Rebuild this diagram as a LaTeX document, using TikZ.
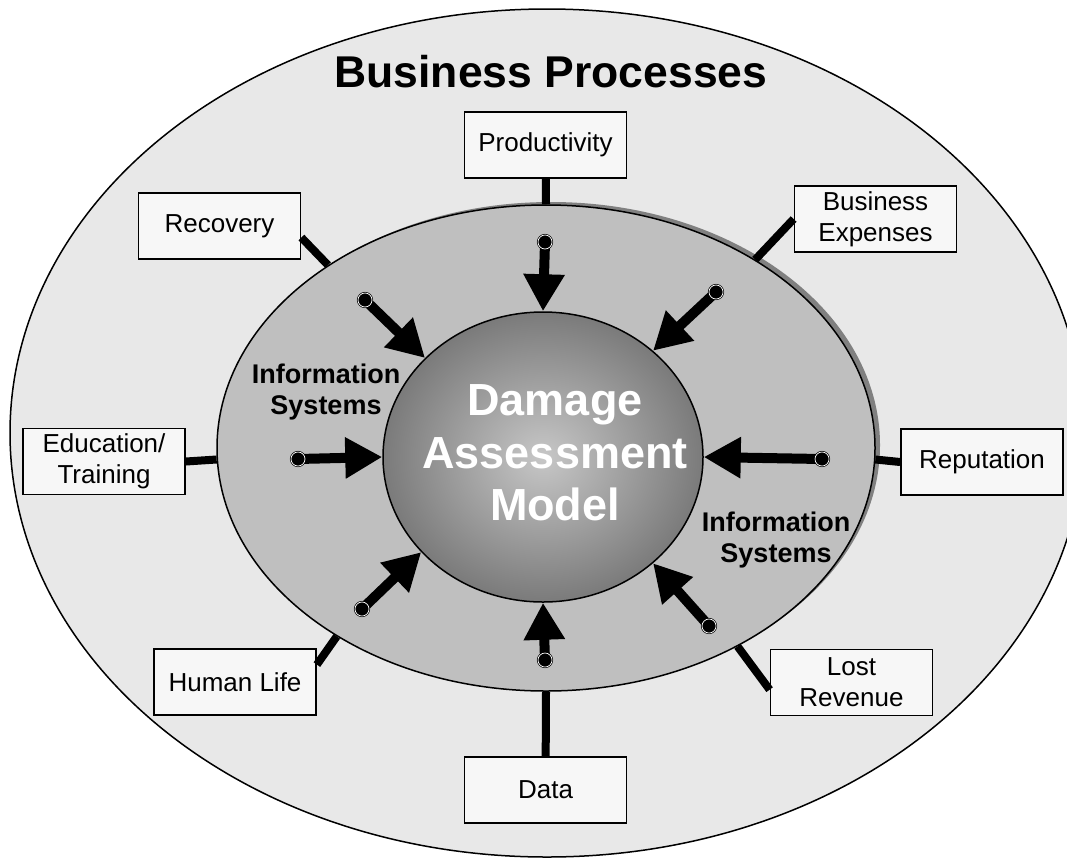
\documentclass[tikz,border=0pt]{standalone}
\usepackage{fontspec}
\setmainfont{Liberation Sans}
\usetikzlibrary{shapes.geometric,arrows.meta,shadows}

\tikzset{
  factor/.style={draw, line width=1.8pt, fill=black!3, minimum width=162pt, minimum height=66pt,
                 inner sep=0pt, align=center, font=\fontsize{26}{31}\selectfont},
  link/.style={line width=8pt},
  feed/.style={line width=10pt, -{Triangle[length=37pt,width=39pt]}},
  pinhead/.style={circle, fill=black, draw=black, double=white, double distance=0.7pt,
                  line width=0.7pt, inner sep=0pt, minimum size=14pt},
  syslabel/.style={align=center, font=\bfseries\fontsize{27}{31}\selectfont}
}

\begin{document}
\begin{tikzpicture}[x=1pt, y=-1pt]
   \useasboundingbox (0,0) rectangle (1067,857);

   % the three rings
   \node[ellipse, draw, line width=1.5pt, fill=black!9, minimum width=1074pt, minimum height=848pt] (bp) at (547,433) {};
   \node[ellipse, draw, line width=1.5pt, fill=black!25, minimum width=658pt, minimum height=486pt,
         drop shadow={shadow xshift=5pt, shadow yshift=3pt, fill=black!50, opacity=1}] (is) at (546,448) {};
   \node[ellipse, draw, line width=1.5pt, inner color=black!22, outer color=black!52,
         minimum width=320pt, minimum height=290pt] (dam) at (543,457) {};

   \node[font=\bfseries\fontsize{44.5}{50}\selectfont, anchor=base] (title) at (551,87) {Business Processes};

   % impact areas
   \node[factor] (prod) at (545.5,145) {Productivity};
   \node[factor] (rec)  at (219.5,226) {Recovery};
   \node[factor] (bexp) at (875.5,219) {Business\\Expenses};
   \node[factor] (edu)  at (104,461.5) {Education/\\Training};
   \node[factor] (rep)  at (982,462)   {Reputation};
   \node[factor] (hum)  at (235,682)   {Human Life};
   \node[factor] (lost) at (851.5,682.5) {Lost\\Revenue};
   \node[factor] (data) at (545.5,790) {Data};

   \path[link]
   (prod)       edge (is.90)
   (rec.-8)     edge (is.140)
   (bexp.west)  edge (is.42)
   (edu.east)   edge (is.182)
   (rep.west)   edge (is.-2)
   (hum.12)     edge (is.222)
   (lost.185)   edge (is.-46)
   (data)       edge (is.-90);

   % arrows into the model
   \coordinate (tn)  at (545,242);
   \coordinate (tne) at (716,292);
   \coordinate (te)  at (822,459);
   \coordinate (tse) at (709,626);
   \coordinate (ts)  at (545,660);
   \coordinate (tsw) at (362,609);
   \coordinate (tw)  at (298,459);
   \coordinate (tnw) at (365,300);

   \path[feed]
   (tn)  edge (dam.90)
   (tne) edge (dam.44)
   (te)  edge (dam.0)
   (tse) edge (dam.-44)
   (ts)  edge (dam.-90)
   (tsw) edge (dam.218)
   (tw)  edge (dam.180)
   (tnw) edge (dam.140);

   \node[pinhead] (hn)  at (tn)  {};
   \node[pinhead] (hne) at (tne) {};
   \node[pinhead] (he)  at (te)  {};
   \node[pinhead] (hse) at (tse) {};
   \node[pinhead] (hs)  at (ts)  {};
   \node[pinhead] (hsw) at (tsw) {};
   \node[pinhead] (hw)  at (tw)  {};
   \node[pinhead] (hnw) at (tnw) {};

   \node[syslabel] (isleft)  at (326,392) {Information\\Systems};
   \node[syslabel] (isright) at (776,540) {Information\\Systems};

   \node[align=center, text=white, font=\bfseries\fontsize{45}{52.5}\selectfont] (damlabel) at (555,453)
        {Damage\\Assessment\\Model};
\end{tikzpicture}
\end{document}
